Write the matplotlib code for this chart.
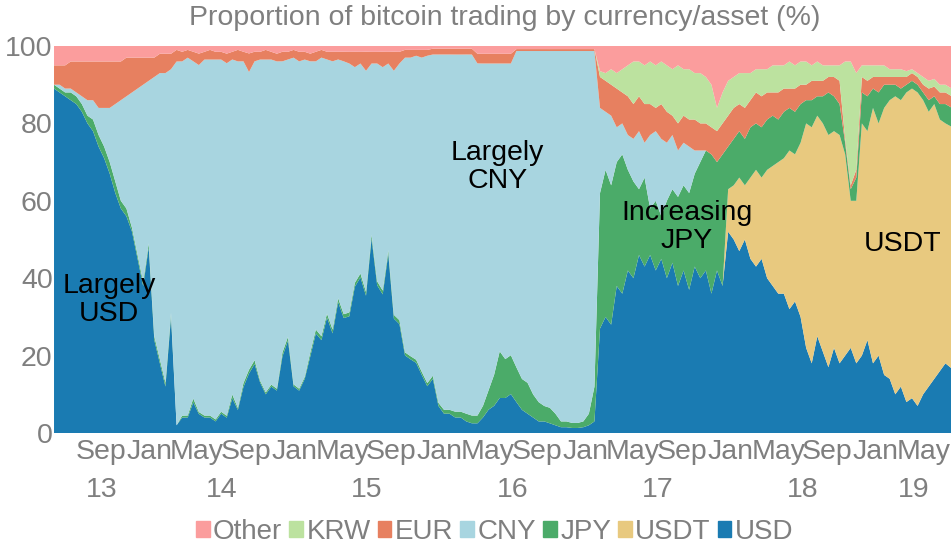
import matplotlib
matplotlib.use('Agg')
import matplotlib.pyplot as plt
import matplotlib.dates as mdates
import matplotlib.transforms as mtransforms
from matplotlib.patches import Patch
import numpy as np
import pandas as pd

plt.rcParams['font.family'] = ['Liberation Sans', 'DejaVu Sans']

# fortnightly samples, starting May 2013
start_date = '2013-05-07'

usd = ([89, 88, 87, 86, 85, 83, 80, 78, 74, 71, 67, 62, 58, 56, 52, 45, 38, 48, 24, 18, 12, 30, 2]
       + [4, 4, 8, 5, 4, 4, 3, 5, 4, 9, 6, 12, 16, 18, 13, 10, 12, 11, 20, 24, 12, 11, 14, 20, 26, 24, 30, 26, 34, 30]
       + [30, 38, 40, 36, 50, 38, 36, 46, 30, 28, 20, 19, 18, 15, 12, 14, 7, 5, 5, 4, 4, 3, 2.5, 2.5, 4, 6, 7, 9, 9, 10,
          8, 6, 5, 4, 3, 3, 2.5, 2, 1.5, 1.5, 1.3, 1.3, 1.5, 2, 3]
       + [27, 30, 28, 38, 36, 42, 40, 46, 43, 46, 42, 45, 40, 44, 38, 42, 37, 43, 40, 42, 36, 42, 38]
       + [52, 50, 47, 50, 45, 43, 45, 40, 38, 36, 36, 32, 34, 30, 22, 18, 25, 21, 17, 22, 18]
       + [20, 22, 18, 20, 24, 18, 20, 15, 14, 10, 12, 8, 9, 7, 10, 12, 14, 16, 18, 17])

usdt = ([0] * 121
        + [11, 14, 19, 14, 21, 25, 21, 28, 31, 34, 35, 41, 38, 45, 58, 61, 57, 59, 60, 56, 59]
        + [52, 38, 42, 60, 54, 66, 60, 69, 72, 77, 74, 80, 80, 81, 76, 71, 71, 65, 62, 63])

jpy = ([1, 1, 1, 2, 2, 2, 2, 3, 3, 3, 3, 3, 2, 2, 1, 1, 1, 1, 1, 1, 1, 1, 0]
       + [0.5, 0.5, 1, 0.5, 0.5, 0.5, 0.5, 0.5, 0.5, 1, 0.5, 1, 1, 1, 0.5, 0.5, 0.5, 0.5, 1, 1, 0.5, 0.5, 0.5, 1, 1, 1, 1, 1, 1, 1]
       + [1, 1, 1, 1, 1, 1, 1, 1, 1, 1, 0.8, 0.8, 0.8, 0.8, 0.8, 0.8, 0.8, 1, 1, 1.5, 1.5, 2, 2, 2, 3, 5, 8, 12, 10, 10,
          9, 8, 8, 6, 5, 4, 4, 3, 1.5, 1.5, 1.3, 1.3, 1.5, 3, 9]
       + [35, 38, 36, 32, 36, 26, 25, 17, 23, 12, 18, 11, 20, 19, 23, 22, 25, 24, 30, 31, 36, 28, 34]
       + [11, 12, 12, 12, 13, 12, 13, 13, 13, 11, 12, 11, 11, 10, 6, 7, 5, 7, 11, 9, 8]
       + [3, 3, 6, 8, 9, 5, 8, 6, 4, 3, 3, 2, 2, 2, 2, 3, 2, 4, 5, 5])

cny = ([0, 1, 1, 1, 1, 2, 4, 5, 7, 10, 14, 20, 26, 29, 35, 43, 51, 42, 67, 74, 80, 63, 94]
       + [92, 92, 88, 91, 92, 92, 93, 91, 92, 87, 90, 84, 80, 78, 83, 86, 84, 85, 76, 72, 84, 85, 82, 76, 70, 72, 66, 70, 62, 66]
       + [64, 56, 54, 58, 44, 56, 58, 48, 64, 66, 76, 77, 78, 81, 84, 83, 90, 92, 92, 92, 92, 93, 93, 91, 88, 84, 80, 74, 76, 75,
          82, 85, 86, 89, 91, 92, 92, 94, 96, 96, 96, 96, 96, 94, 87]
       + [22, 15, 18, 9, 8, 9, 11, 15, 9, 19, 18, 20, 15, 14, 12, 11, 12, 6, 3, 0, 0, 0, 0]
       + [0] * 41)

eur = ([5, 5, 6, 7, 8, 9, 10, 10, 12, 12, 12, 11, 10, 10, 9, 8, 7, 6, 5, 5, 5, 4, 3]
       + [2.5, 2, 2.5, 3, 2, 2.5, 2, 2, 2.5, 2, 3, 2.5, 5, 2.5, 2, 2.5, 2, 2, 2.5, 2, 2, 2.5, 2, 2, 2.5, 2, 2, 2.5, 2, 2.5]
       + [3, 4, 3, 5, 3, 3, 4, 3, 5, 3, 2, 2, 1.5, 2, 1.5] + [1.5] * 8 + [2.5] * 7 + [0.5] * 15
       + [8, 8, 8, 10, 8, 10, 9, 9, 10, 8, 6, 9, 8, 5, 7, 7, 7, 8, 7, 7, 7, 8, 8]
       + [8, 8, 7, 8, 7, 8, 8, 7, 6, 7, 6, 5, 6, 5, 4, 5, 4, 4, 4, 5, 6]
       + [1, 1, 2, 4, 4, 3, 4, 2, 2, 2, 3, 2, 2, 2, 2, 3, 2.5, 3, 3, 3])

krw = ([0] * 98
       + [1.5, 2, 4, 4, 6, 8, 11, 9, 10, 11, 11, 11, 12, 12, 15, 12, 13, 12, 13, 12, 11, 6, 8]
       + [9, 8, 8, 9, 7, 6, 7, 6, 7, 7, 6, 7, 6, 6, 6, 4, 5, 4, 3, 3, 4]
       + [20, 32, 25, 3, 4, 3, 3, 3, 2, 2, 2, 1.5, 1, 1, 2, 2, 2, 2, 2, 2])

other = ([5, 5, 5, 4, 4, 4, 4, 4, 4, 4, 4, 4, 4, 3, 3, 3, 3, 3, 3, 2, 2, 2, 1]
         + [1.5, 1, 1.5, 2, 1.5, 1, 1.5, 1.5, 2, 1.5, 1, 1.5, 2, 1.5, 1.5, 1, 1.5, 2, 1.5, 1.5, 1, 1.5, 1.5, 2, 1.5, 1, 1.5,
            1.5, 1.5, 1.5]
         + [1.5] * 10 + [1] * 5 + [0.7] * 8 + [2] * 7 + [0.8] * 15
         + [6.5, 7, 6, 7, 6, 5, 4, 4, 5, 4, 5, 4, 5, 6, 5, 6, 6, 7, 7, 8, 10, 16, 12]
         + [9, 8, 7, 7, 7, 6, 6, 6, 5, 5, 5, 4, 5, 4, 4, 5, 4, 5, 5, 5, 5]
         + [4, 4, 7, 5, 5, 5, 5, 5, 6, 6, 6, 6.5, 6, 7, 8, 9, 8.5, 10, 10, 11])

names = ['USD', 'USDT', 'JPY', 'CNY', 'EUR', 'KRW', 'Other']
colors = ['#1a7bb2', '#e8c97f', '#4bab69', '#a8d5e0', '#e78060', '#bce29f', '#fb9d9d']
grey = '#7f7f7f'
fs = 20.5

dates = pd.date_range(start_date, periods=len(usd), freq='14D')
layers = np.array([usd, usdt, jpy, cny, eur, krw, other], dtype=float)
layers = layers / layers.sum(axis=0) * 100  # shares add up to 100

fig = plt.figure(figsize=(9.51, 5.47), dpi=100)
ax = fig.add_axes([0.0568, 0.2084, 0.9432, 0.7075])
ax.stackplot(dates, *layers, colors=colors, linewidth=0)
ax.set_xlim(dates[0], dates[-1])
ax.set_ylim(0, 100)
for s in ax.spines.values():
    s.set_visible(False)

ax.set_yticks(range(0, 101, 20))
ax.xaxis.set_major_locator(mdates.MonthLocator(bymonth=[1, 5, 9]))
ax.xaxis.set_major_formatter(mdates.DateFormatter('%b'))
ax.tick_params(length=0, labelsize=fs, colors=grey)
ax.tick_params(axis='x', pad=4)
ax.tick_params(axis='y', pad=1)

# year labels centred on the visible part of each year
trans = mtransforms.blended_transform_factory(ax.transData, ax.transAxes)
x0, x1 = mdates.date2num(dates[0]), mdates.date2num(dates[-1])
for yr in range(2013, 2020):
    a = max(x0, mdates.date2num(pd.Timestamp(f'{yr}-01-01')))
    b = min(x1, mdates.date2num(pd.Timestamp(f'{yr + 1}-01-01')))
    ax.text((a + b) / 2, -0.147, str(yr)[2:], transform=trans, ha='center', va='center',
            fontsize=fs, color=grey)

# annotations
ax.text(pd.Timestamp('2013-09-22'), 34.4, 'Largely\nUSD', ha='center', va='center', fontsize=fs, linespacing=1.1)
ax.text(pd.Timestamp('2016-05-26'), 68.7, 'Largely\nCNY', ha='center', va='center', fontsize=fs, linespacing=1.1)
ax.text(pd.Timestamp('2017-09-13'), 53.2, 'Increasing\nJPY', ha='center', va='center', fontsize=fs, linespacing=1.1)
ax.text(pd.Timestamp('2019-03-10'), 48.8, 'USDT', ha='center', va='center', fontsize=fs)

fig.text(0.531, 1 - 18 / 547, 'Proportion of bitcoin trading by currency/asset (%)',
         ha='center', va='center', fontsize=20.5, color=grey)

handles = [Patch(color=c) for c in colors[::-1]]
leg = fig.legend(handles, names[::-1], loc='center', bbox_to_anchor=(0.52, 1 - 532 / 547), ncol=7,
                 frameon=False, fontsize=20, handlelength=0.5, handleheight=0.5,
                 handletextpad=0.12, columnspacing=0.25, borderpad=0)
for t in leg.get_texts():
    t.set_color(grey)

fig.savefig('out.png', dpi=100)
